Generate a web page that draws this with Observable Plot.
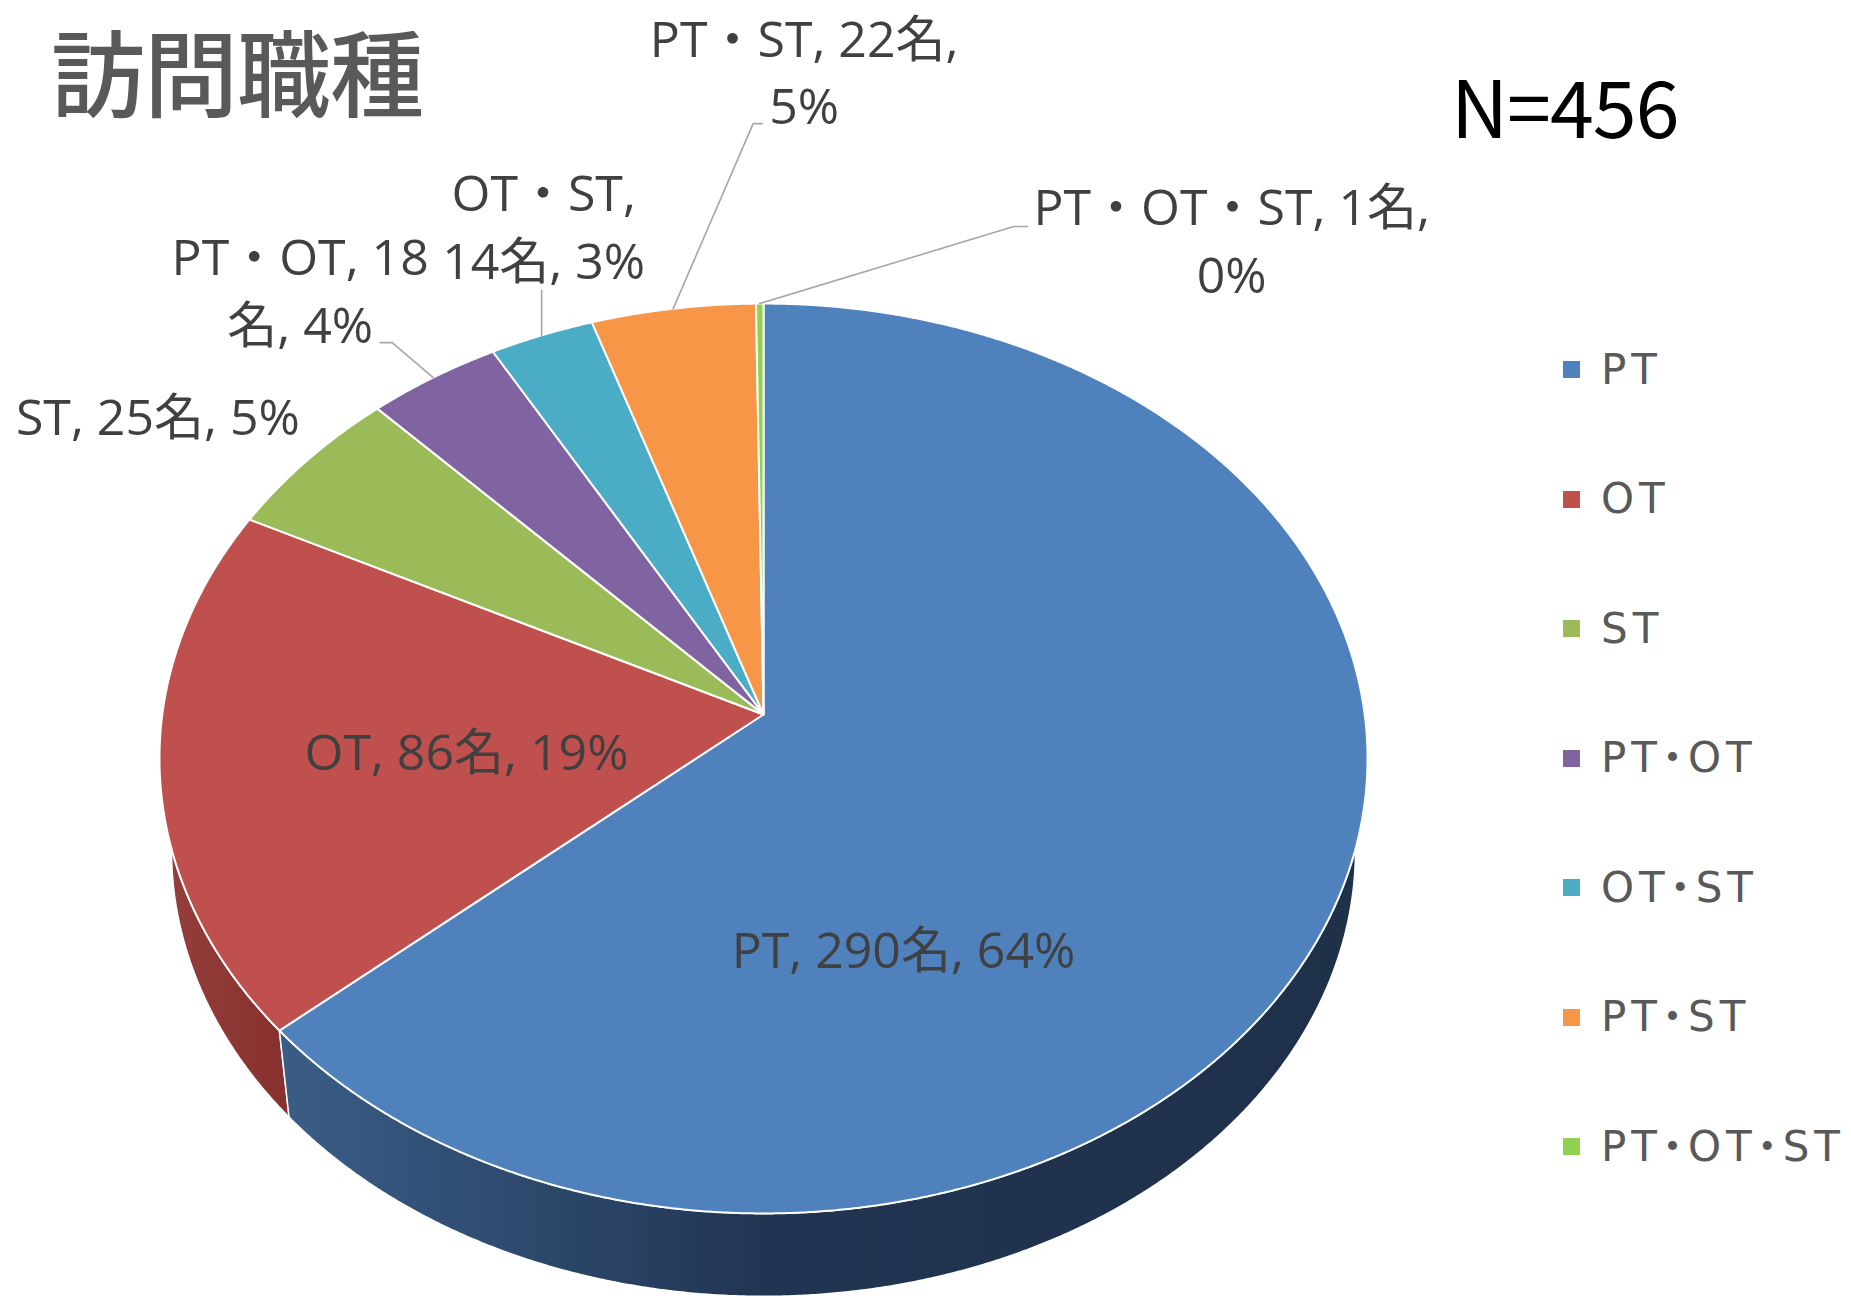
<!DOCTYPE html>
<html>
<head>
<meta charset="utf-8">
<script src="https://cdn.jsdelivr.net/npm/d3@7"></script>
<script src="https://cdn.jsdelivr.net/npm/@observablehq/plot@0.6"></script>
<style>
  html, body { margin: 0; padding: 0; background: #ffffff; }
  #wrap { position: relative; width: 1851px; height: 1298px; overflow: hidden; font-family: "Noto Sans CJK JP", "Noto Sans", sans-serif; }
  #chart { position: absolute; left: 0; top: 0; }
  #title { position: absolute; left: 51px; top: 1px; font-size: 94px; line-height: normal; color: #595959; font-weight: 500; white-space: nowrap; letter-spacing: -1px; padding-right: 6px; }
  #ntext { position: absolute; left: 1451px; top: 64px; font-size: 79px; line-height: 1; color: #000000; white-space: nowrap; letter-spacing: -1px; }
  .lg { position: absolute; left: 1563px; height: 44px; display: flex; align-items: center; white-space: nowrap; }
  .lg .sw { width: 17px; height: 17px; margin-right: 21px; }
  .lg .tx { font-family: "DejaVu Sans", "Noto Sans CJK JP", sans-serif; font-feature-settings: "palt"; font-size: 42px; line-height: 44px; color: #595959; letter-spacing: 5px; }
</style>
</head>
<body>
<div id="wrap">
  <div id="chart"></div>
  <div id="title"></div>
  <div id="ntext"></div>
  <div id="legend"></div>
</div>
<script>
// ---------- data ----------
const categories = ["PT", "OT", "ST", "PT・OT", "OT・ST", "PT・ST", "PT・OT・ST"];
const counts = [290, 86, 25, 18, 14, 22, 1];
const sliceColors = ["#4F81BD", "#C0504D", "#9BBB59", "#8064A2", "#4BACC6", "#F79646", "#92D050"];
const titleText = "訪問職種";
const unit = "名";

// ---------- layout (pie model & label placement) ----------
const W = 1851, H = 1298;
const P = { cx: 763, cy: 714, sx: 601.2, sy: 450.7, k: 0.0967, ecy: 758, depth: 92, shrink: 0.98 };
// label placement: where = "in" (relative to apex) or "out" (relative to slice rim midpoint)
// brk = character index of the line break (or -1)
const labelLayout = [
  { where: "in",  dx: 140,  dy: 232,  brk: -1, leader: [] },
  { where: "in",  dx: -297, dy: 34,   brk: -1, leader: [] },
  { where: "out", dx: -150, dy: -46,  brk: -1, leader: [] },
  { where: "out", dx: -133, dy: -90,  brk: 9,  leader: [[-41, -35], [-53, -35]] },
  { where: "out", dx: 2,    dy: -112, brk: 6,  leader: [[0, -45]] },
  { where: "out", dx: 131,  dy: -240, brk: 11, leader: [[80, -185], [89, -185]] },
  { where: "out", dx: 472,  dy: -66,  brk: 13, leader: [[254, -77], [268, -77]] }
];

document.getElementById("title").textContent = titleText;
const total = d3.sum(counts);
document.getElementById("ntext").textContent = "N=" + total;

// ---------- geometry ----------
function proj(a, r = 1) {
  const X = r * Math.sin(a), Y = r * Math.cos(a);
  const w = 1 + P.k * Y;
  return [P.cx + P.sx * X / w, P.cy - P.sy * Y / w];
}
function projBottom(a) {
  const [x, y] = proj(a);
  return [P.cx + P.shrink * (x - P.cx), P.ecy + P.shrink * (y - P.ecy) + P.depth];
}
const arcs = d3.pie().sort(null).value(d => d)(counts);
const step = Math.PI / 720;
function arcPoints(a0, a1, f) {
  const n = Math.max(2, Math.ceil((a1 - a0) / step));
  const pts = [];
  for (let i = 0; i <= n; i++) pts.push(f(a0 + (a1 - a0) * i / n));
  return pts;
}

const topRows = [];
const wallRows = { blue: [], red: [], other: [] };
arcs.forEach((arc, i) => {
  const cat = categories[i];
  topRows.push({ cat, x: P.cx, y: P.cy });
  arcPoints(arc.startAngle, arc.endAngle, a => proj(a)).forEach(([x, y]) => topRows.push({ cat, x, y }));
  const a0 = Math.max(arc.startAngle, Math.PI / 2), a1 = Math.min(arc.endAngle, 3 * Math.PI / 2);
  if (a0 < a1) {
    const pts = arcPoints(a0, a1, a => proj(a)).concat(arcPoints(a0, a1, a => projBottom(a)).reverse());
    const key = i === 0 ? "blue" : i === 1 ? "red" : "other";
    pts.forEach(([x, y]) => wallRows[key].push({ cat, x, y }));
  }
});

// labels & leaders
const labelRows = [];
const leaderRows = [];
arcs.forEach((arc, i) => {
  const L = labelLayout[i];
  const pct = Math.round(counts[i] / total * 100);
  let text = `${categories[i]}, ${counts[i]}${unit}, ${pct}%`;
  if (L.brk >= 0) text = text.slice(0, L.brk).trimEnd() + "\n" + text.slice(L.brk).trimStart();
  const mid = (arc.startAngle + arc.endAngle) / 2;
  const base = L.where === "in" ? [P.cx, P.cy] : proj(mid);
  labelRows.push({ text, x: base[0] + L.dx, y: base[1] + L.dy });
  if (L.leader.length) {
    leaderRows.push({ id: i, x: base[0], y: base[1] });
    L.leader.forEach(([dx, dy]) => leaderRows.push({ id: i, x: base[0] + dx, y: base[1] + dy }));
  }
});

const chart = Plot.plot({
  width: W, height: H,
  margin: 0,
  x: { domain: [0, W], range: [0, W], axis: null },
  y: { domain: [0, H], range: [0, H], axis: null },
  color: { domain: categories, range: sliceColors },
  style: { background: "transparent" },
  marks: [
    Plot.line(wallRows.red, { x: "x", y: "y", curve: "linear-closed", fill: "url(#redWall)", stroke: "#ffffff", strokeWidth: 1.5 }),
    Plot.line(wallRows.blue, { x: "x", y: "y", curve: "linear-closed", fill: "url(#blueWall)", stroke: "#ffffff", strokeWidth: 1.5 }),
    Plot.line(topRows, { x: "x", y: "y", z: "cat", fill: "cat", stroke: "#ffffff", strokeWidth: 2, curve: "linear-closed" }),
    Plot.line(leaderRows, { x: "x", y: "y", z: "id", stroke: "#A6A6A6", strokeWidth: 1.6 }),
    Plot.text(labelRows, { x: "x", y: "y", text: "text", fontSize: 50, lineHeight: 1.35, fill: "#404040", fontFamily: "'Open Sans', 'Noto Sans CJK JP', sans-serif" })
  ]
});

// gradients for the side walls
const ns = "http://www.w3.org/2000/svg";
const defs = document.createElementNS(ns, "defs");
function grad(id, stops) {
  const g = document.createElementNS(ns, "linearGradient");
  g.setAttribute("id", id);
  g.setAttribute("x1", "0"); g.setAttribute("y1", "0"); g.setAttribute("x2", "1"); g.setAttribute("y2", "0");
  stops.forEach(([o, c]) => {
    const s = document.createElementNS(ns, "stop");
    s.setAttribute("offset", o); s.setAttribute("stop-color", c);
    g.appendChild(s);
  });
  defs.appendChild(g);
}
grad("blueWall", [["0", "#3A5D87"], ["0.45", "#213552"], ["1", "#1F3049"]]);
grad("redWall", [["0", "#94403C"], ["1", "#87302E"]]);
chart.insertBefore(defs, chart.firstChild);
document.getElementById("chart").appendChild(chart);

// legend
const legend = document.getElementById("legend");
categories.forEach((c, i) => {
  const item = document.createElement("div");
  item.className = "lg";
  item.style.top = (369.5 + i * 129.5 - 22) + "px";
  item.innerHTML = `<div class="sw" style="background:${sliceColors[i]}"></div><div class="tx"></div>`;
  item.querySelector(".tx").textContent = c;
  legend.appendChild(item);
});
</script>
</body>
</html>
